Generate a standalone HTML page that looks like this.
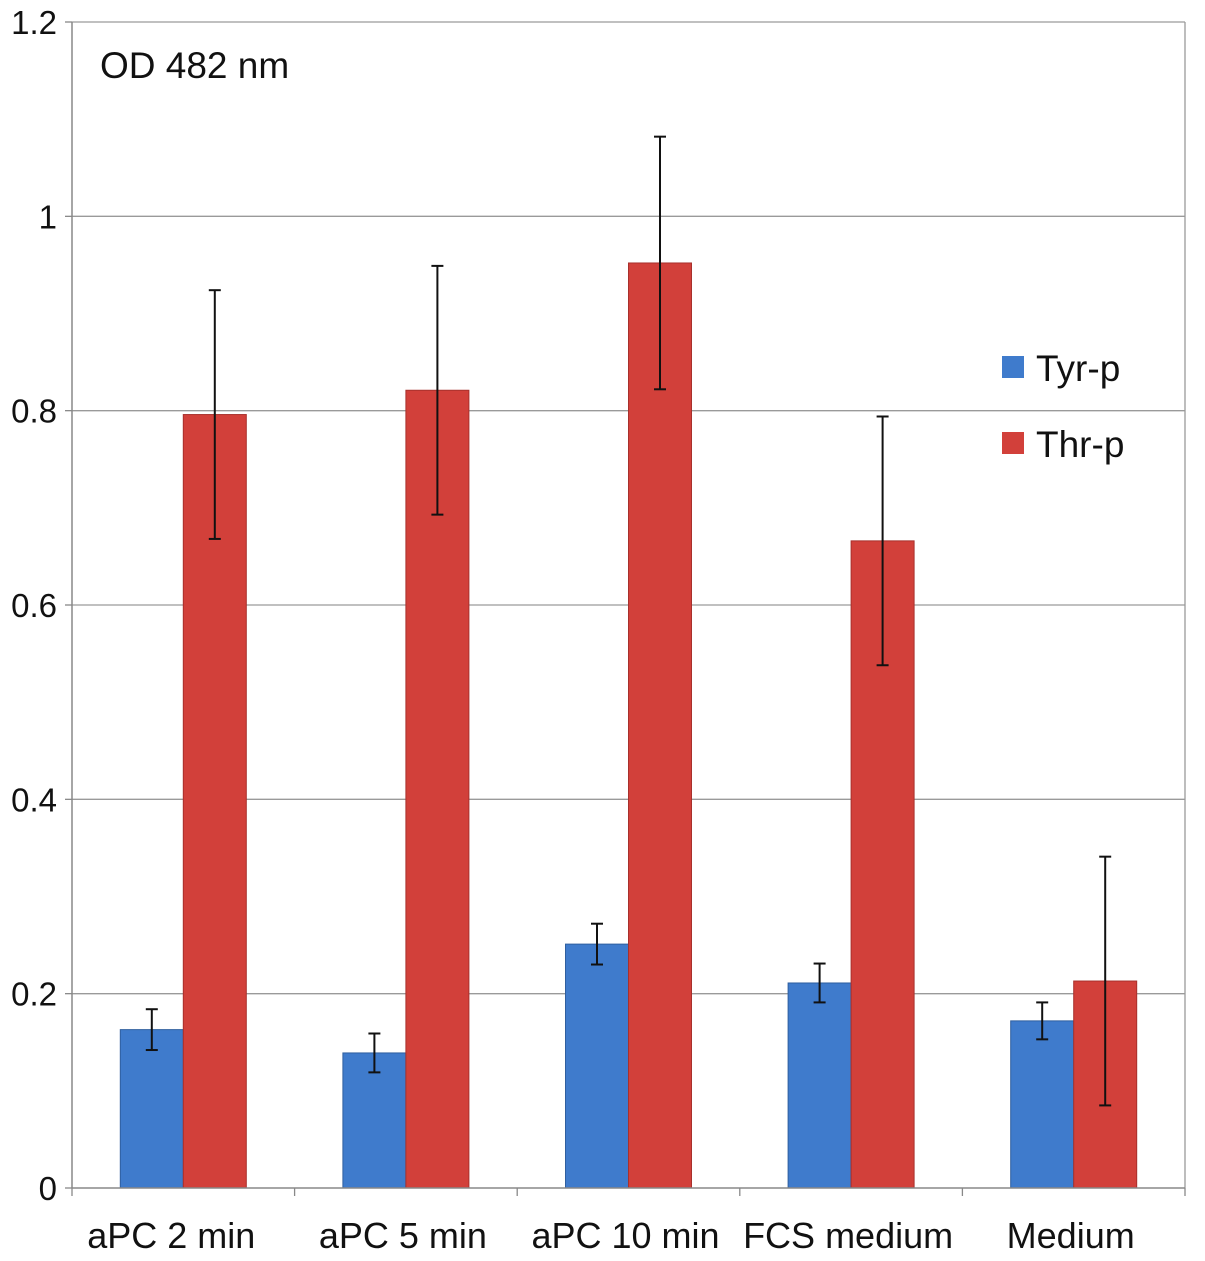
<!DOCTYPE html>
<html><head><meta charset="utf-8"><style>
html,body{margin:0;padding:0;background:#fff;}
svg{display:block;font-family:"Liberation Sans",Arial,sans-serif;}
</style></head><body>
<svg id="chart" width="1205" height="1261" viewBox="0 0 1205 1261"></svg>
<script>
const categories = ["aPC 2 min","aPC 5 min","aPC 10 min","FCS medium","Medium"];
const tyrValues = [0.163,0.139,0.251,0.211,0.172];
const tyrErrors = [0.021,0.020,0.021,0.020,0.019];
const thrValues = [0.796,0.821,0.952,0.666,0.213];
const thrErrors = [0.128,0.128,0.130,0.128,0.128];
const yTicks = [0,0.2,0.4,0.6,0.8,1,1.2];
const yTickLabels = ["0","0.2","0.4","0.6","0.8","1","1.2"];

const NS="http://www.w3.org/2000/svg";
const svg=document.getElementById('chart');
const L=72,R=1185,T=22,B=1188,yMax=1.2;
const y=v=>B-(v/yMax)*(B-T);
const band=(R-L)/categories.length;
const xc=i=>L+band*(i+0.5);
const bw=63;
function mk(tag,attrs,text){const e=document.createElementNS(NS,tag);for(const k in attrs)e.setAttribute(k,attrs[k]);if(text!==undefined)e.textContent=text;svg.appendChild(e);return e;}

yTicks.forEach((t,i)=>{
  if(t>0){const g=mk('line',{x1:L,x2:R,y1:y(t),y2:y(t),stroke:'#9a9a9a','stroke-width':1.3});
  }
  const tk=mk('line',{x1:L-7,x2:L,y1:y(t),y2:y(t),stroke:'#888','stroke-width':1.3});
  
  const lb=mk('text',{x:57,y:y(t)+12,'text-anchor':'end','font-size':33,fill:'#111'},yTickLabels[i]);
  
});
const rl=mk('line',{x1:R,x2:R,y1:T,y2:B,stroke:'#9a9a9a','stroke-width':1.3});


function errBar(cx,v,e){
  const a=mk('line',{x1:cx,x2:cx,y1:y(v+e),y2:y(v-e),stroke:'#111','stroke-width':2});
  
  [v+e,v-e].forEach(w=>{const c=mk('line',{x1:cx-6,x2:cx+6,y1:y(w),y2:y(w),stroke:'#111','stroke-width':2});
  });
}
categories.forEach((c,i)=>{
  const cx=xc(i);
  const b1=mk('rect',{x:cx-bw,y:y(tyrValues[i]),width:bw,height:B-y(tyrValues[i]),fill:'#3f7bcc',stroke:'#2f5f9f','stroke-width':1});
  
  const b2=mk('rect',{x:cx,y:y(thrValues[i]),width:bw,height:B-y(thrValues[i]),fill:'#d2403a',stroke:'#a8302c','stroke-width':1});
  
  errBar(cx-bw/2,tyrValues[i],tyrErrors[i]);
  errBar(cx+bw/2,thrValues[i],thrErrors[i]);
  const lb=mk('text',{x:cx-(i===0?12:3),y:1248,'text-anchor':'middle','font-size':36,fill:'#111'},c);
  
});
for(let i=0;i<=categories.length;i++){
  const t=mk('line',{x1:L+band*i,x2:L+band*i,y1:B,y2:B+8,stroke:'#888','stroke-width':1.3});
  
}
const xa=mk('line',{x1:L,x2:R,y1:B,y2:B,stroke:'#888','stroke-width':1.5});

const ya=mk('line',{x1:L,x2:L,y1:T,y2:B,stroke:'#888','stroke-width':1.5});

const tt=mk('text',{x:100,y:78,'font-size':37,fill:'#111'},'OD 482 nm');

[['Tyr-p','#3f7bcc',356],['Thr-p','#d2403a',432]].forEach(([n,col,yy])=>{
  const s=mk('rect',{x:1002,y:yy,width:22,height:22,fill:col});
  
  const t=mk('text',{x:1036,y:yy+25,'font-size':37,fill:'#111'},n);
  
});
</script>
</body></html>
